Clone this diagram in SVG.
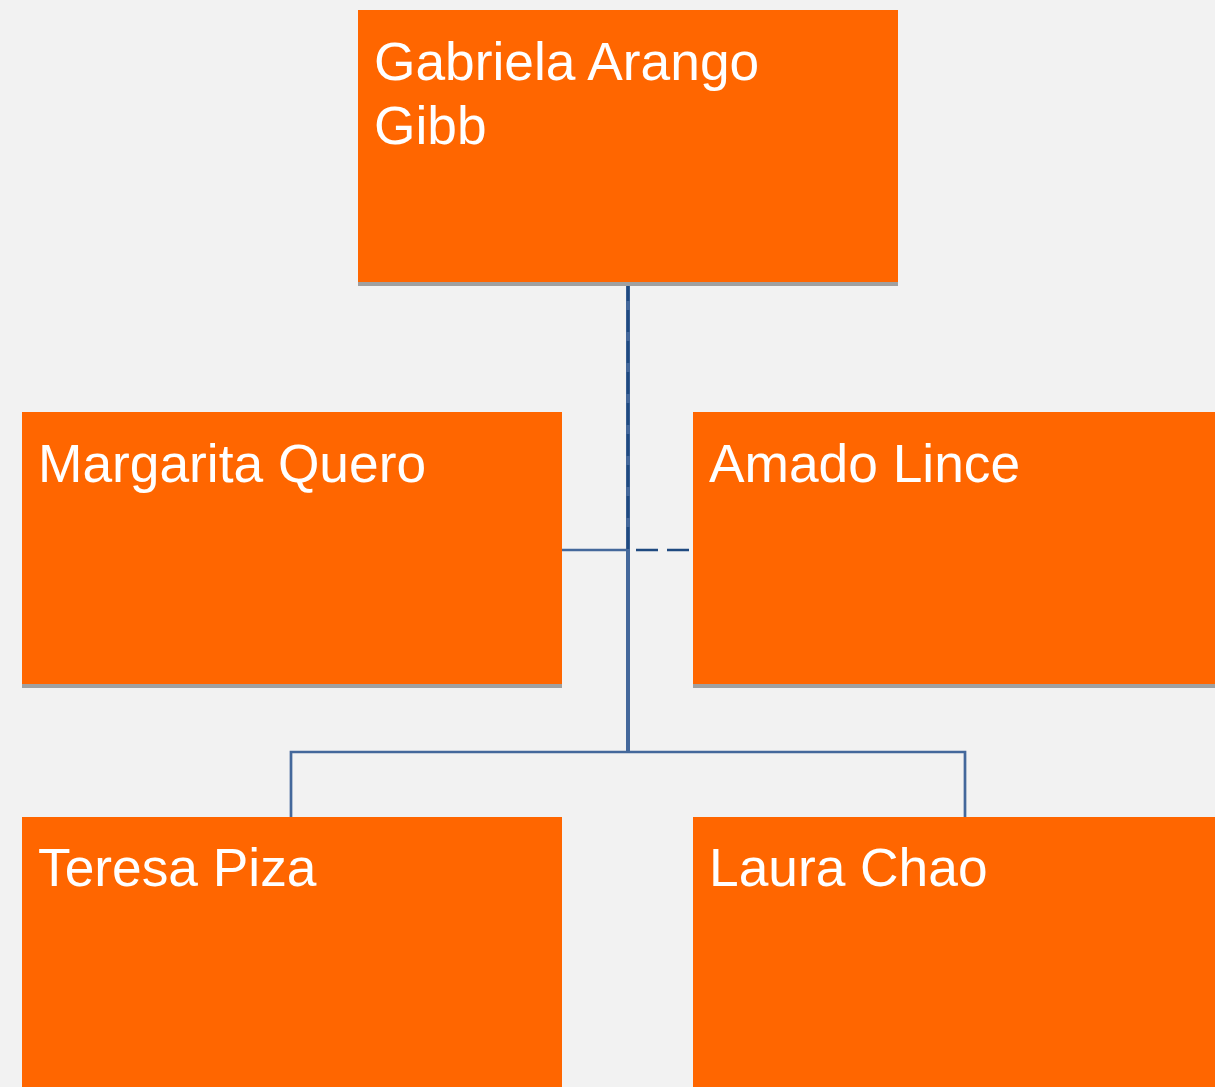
<svg xmlns="http://www.w3.org/2000/svg" width="1215" height="1087" viewBox="0 0 1215 1087">
<style>
.bg{fill:#f2f2f2}
.box{fill:#ff6600}
.shadow{fill:#a0a0a0}
.lbl{font-family:"Liberation Sans",Arial,sans-serif;font-size:53.3px;fill:#ffffff}
.c{fill:none;stroke:#44689b;stroke-width:2.7}
.cv{fill:none;stroke:#44689b;stroke-width:4}
.cd{fill:none;stroke:#1f4a80;stroke-width:2.7;stroke-dasharray:22 9}
</style>
<rect class="bg" x="0" y="0" width="1215" height="1087"/>
<g id="connectors">
<path class="cv" d="M628,279 V752"/>
<path class="c" d="M628,550 H562"/>
<path class="c" d="M628,752 H291 V817"/>
<path class="c" d="M628,752 H965 V817"/>
<path class="cd" d="M628,279 V550 H693"/>
</g>
<g id="node-gabriela">
<rect class="shadow" x="358" y="14" width="540" height="272"/>
<rect class="box" x="358" y="10" width="540" height="272"/>
<text class="lbl" x="374" y="80">Gabriela Arango</text>
<text class="lbl" x="374" y="144">Gibb</text>
</g>
<g id="node-margarita">
<rect class="shadow" x="22" y="416" width="540" height="272"/>
<rect class="box" x="22" y="412" width="540" height="272"/>
<text class="lbl" x="38" y="482">Margarita Quero</text>
</g>
<g id="node-amado">
<rect class="shadow" x="693" y="416" width="540" height="272"/>
<rect class="box" x="693" y="412" width="540" height="272"/>
<text class="lbl" x="709" y="482">Amado Lince</text>
</g>
<g id="node-teresa">
<rect class="box" x="22" y="817" width="540" height="272"/>
<text class="lbl" x="38" y="886">Teresa Piza</text>
</g>
<g id="node-laura">
<rect class="box" x="693" y="817" width="540" height="272"/>
<text class="lbl" x="709" y="886">Laura Chao</text>
</g>
</svg>
